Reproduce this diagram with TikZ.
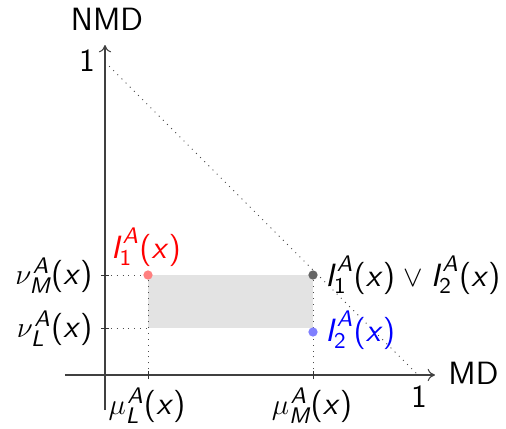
\documentclass[tikz,border=0pt]{standalone}
\usepackage{amsmath}
\usetikzlibrary{arrows.meta,calc}
\newcommand{\sv}[1]{\textsf{\slshape #1}}
\newcommand{\Iv}[1]{$\sv{I}_{\textsf{#1}}^{\kern1.2pt\sv{A}}$(\sv{x})}
\newcommand{\gm}[2]{$#1_{\sv{#2}}^{\kern0.6pt\sv{A}}$(\sv{x})}
\begin{document}
\begin{tikzpicture}[x=0.41pt,y=-0.41pt,font=\sffamily\fontsize{13.2}{15}\selectfont,
  axis/.style={draw=black!75,line width=0.45pt,-{To[length=3pt,width=5pt]}},
  guide/.style={draw=black!70,dotted,line width=0.4pt},
  tick/.style={draw=black!80,line width=0.4pt},
  pt/.style={circle,inner sep=0pt,minimum size=3.8pt,draw=none},
  lbl/.style={inner sep=0pt}]
\useasboundingbox (0,0) rectangle (506,428);
% coordinates
\coordinate (O) at (105,375);
\coordinate (xs) at (65,375);
\coordinate (xe) at (435,375);
\coordinate (ys) at (105,410);
\coordinate (ye) at (105,45);
\coordinate (y1) at (105,62);
\coordinate (x1) at (418,375);
\coordinate (muL) at (148,375);
\coordinate (muM) at (313,375);
\coordinate (nuM) at (105,275);
\coordinate (nuL) at (105,328);
% rectangle
\fill[black!11] (148,275) rectangle (313,328);
% dotted guides
\draw[guide] (y1) -- (x1);
\draw[guide] (nuM) -- (148,275);
\draw[guide] (nuL) -- (148,328);
\draw[guide] (muL) -- (148,275);
\draw[guide] (muM) -- (313,275);
% axes
\draw[axis] (xs) -- (xe);
\draw[axis] (ys) -- (ye);
% ticks
\draw[tick] ($(muL)+(0,-4)$) -- ($(muL)+(0,4)$);
\draw[tick] ($(muM)+(0,-4)$) -- ($(muM)+(0,4)$);
\draw[tick] ($(nuM)+(-4,0)$) -- ($(nuM)+(4,0)$);
\draw[tick] ($(nuL)+(-4,0)$) -- ($(nuL)+(4,0)$);
% points
\node[pt,fill=red!50] (p1) at (148,275) {};
\node[pt,fill=black!60] (pv) at (313,275) {};
\node[pt,fill=blue!50] (p2) at (313,332) {};
% labels
\node[lbl,anchor=base] (nmd) at (107,30) {NMD};
\node[lbl,anchor=base west] (md) at (448,384) {MD};
\node[lbl,anchor=base] (one-y) at (87,71) {1};
\node[lbl,anchor=base] (one-x) at (419,407) {1};
\node[lbl,anchor=base east] (lnuM) at (93,284) {\gm{\nu}{M}};
\node[lbl,anchor=base east] (lnuL) at (93,337) {\gm{\nu}{L}};
\node[lbl,anchor=base] (lmuL) at (147,414) {\gm{\mu}{L}};
\node[lbl,anchor=base] (lmuM) at (312,414) {\gm{\mu}{M}};
\node[lbl,anchor=base,red] (l1) at (146,258) {\Iv{1}};
\node[lbl,anchor=base west] (lv) at (325,286) {\Iv{1}$\;\vee\;$\Iv{2}};
\node[lbl,anchor=base west,blue] (l2) at (325,341) {\Iv{2}};
\end{tikzpicture}
\end{document}
